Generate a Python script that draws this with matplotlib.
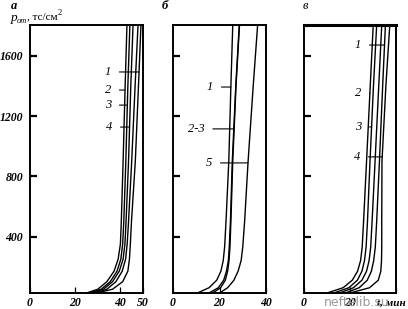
import numpy as np
import matplotlib
matplotlib.use('Agg')
import matplotlib.pyplot as plt

plt.rcParams['font.family'] = ['Liberation Serif', 'DejaVu Serif']

# давление, тс/см2 (общая сетка точек по оси y)
p_a = [25, 50, 100, 170, 250, 350, 500, 900, 1400, 1805]
p_b = [25, 60, 110, 170, 240, 330, 500, 900, 1400, 1805]
p_c = [25, 60, 110, 170, 240, 330, 500, 900, 1400, 1805]

# панель а: время, мин
a_curve1 = [29.5, 36.5, 41.0, 43.3, 44.0, 44.4, 44.9, 46.6, 48.0, 49.1]
a_curve2 = [25.0, 30.0, 34.0, 37.2, 39.0, 40.0, 40.4, 41.2, 42.1, 42.9]
a_curve3 = [26.5, 31.5, 35.5, 38.5, 40.2, 41.0, 41.5, 42.4, 43.3, 44.2]
a_curve4 = [27.5, 32.5, 36.5, 39.5, 41.2, 42.0, 42.5, 43.6, 44.6, 45.6]
a_curve5 = [28.5, 34.0, 38.0, 40.8, 42.3, 43.0, 43.6, 45.0, 46.5, 47.8]

# панель б
b_curve1 = [10.5, 15.5, 18.8, 20.6, 21.6, 22.2, 22.8, 24.0, 24.9, 25.7]
b_curve2 = [15.5, 19.5, 21.8, 23.0, 23.8, 24.2, 24.7, 25.5, 27.0, 28.5]
b_curve3 = [17.0, 20.5, 22.5, 23.5, 24.1, 24.5, 24.9, 25.7, 27.1, 28.6]
b_curve5 = [20.0, 23.5, 26.2, 28.0, 29.3, 30.0, 30.8, 32.3, 34.5, 36.4]

# панель в
c_curve1 = [18.0, 24.0, 27.5, 29.3, 30.3, 31.0, 31.6, 32.8, 34.2, 35.4]
c_curve2 = [10.0, 17.0, 21.0, 23.3, 24.6, 25.3, 25.9, 27.2, 28.8, 30.1]
c_curve3 = [13.0, 19.5, 23.2, 25.2, 26.3, 27.0, 27.6, 28.7, 30.2, 31.6]
c_curve4 = [20.0, 28.5, 32.3, 33.4, 33.7, 33.8, 33.8, 33.9, 35.6, 37.3]
c_curve_x = [15.5, 21.5, 25.2, 27.2, 28.3, 29.0, 29.6, 30.9, 32.5, 33.8]

y_ticks = [400, 800, 1200, 1600]
y_ticklabels = ['400', '800', '1200', '1600']

fig = plt.figure(figsize=(4.08, 3.09), dpi=100)
W, H = 408, 309


def box(l, r, t=25, b=293):
    return [l / W, (H - b) / H, (r - l) / W, (b - t) / H]


ax_a = fig.add_axes(box(30, 143))
ax_b = fig.add_axes(box(173, 266))
ax_c = fig.add_axes(box(304, 396))

for ax in (ax_a, ax_b, ax_c):
    ax.set_ylim(25, 1805)
    ax.set_yticks(y_ticks)
    for s in ax.spines.values():
        s.set_linewidth(1.4)
    ax.tick_params(axis='y', direction='in', length=5, width=1.6, labelsize=8.5, pad=5)
    ax.tick_params(axis='x', direction='in', length=4, width=0.9, labelsize=8.5, pad=3)

ax_a.set_xlim(0, 50)
ax_a.set_xticks([0, 20, 40, 50])
ax_a.set_xticklabels(['0', '20', '40', '50'])
ax_a.set_yticklabels(y_ticklabels)

ax_b.set_xlim(0, 40)
ax_b.set_xticks([0, 20, 40])
ax_b.set_xticklabels(['0', '20', '40'])
ax_b.set_yticklabels([])

ax_c.set_xlim(0, 40)
ax_c.set_xticks([0, 20, 40])
ax_c.set_xticklabels(['0', '20', ''])
ax_c.set_yticklabels([])
ax_c.spines['top'].set_linewidth(2.2)

for ax in (ax_a, ax_b, ax_c):
    for lbl in ax.get_xticklabels() + ax.get_yticklabels():
        lbl.set_fontstyle('italic')
        lbl.set_fontweight('bold')

curves_a = [a_curve1, a_curve2, a_curve3, a_curve4, a_curve5]
curves_b = [b_curve1, b_curve2, b_curve3, b_curve5]
curves_c = [c_curve1, c_curve2, c_curve3, c_curve4, c_curve_x]

for ax, pp, curves in ((ax_a, p_a, curves_a), (ax_b, p_b, curves_b), (ax_c, p_c, curves_c)):
    for c in curves:
        ax.plot(c, pp, color='black', lw=1.0)


def tag(ax, text, x_text, p, curve, pp):
    x_end = np.interp(p, pp, curve)
    ax.annotate(text, xy=(x_end, p), xytext=(x_text, p), ha='center', va='center',
                fontsize=9, fontstyle='italic',
                arrowprops=dict(arrowstyle='-', lw=0.8, shrinkA=4, shrinkB=0))


tag(ax_a, '1', 34.5, 1493, a_curve1, p_a)
tag(ax_a, '2', 34.5, 1373, a_curve2, p_a)
tag(ax_a, '3', 34.5, 1273, a_curve3, p_a)
tag(ax_a, '4', 35.0, 1127, a_curve4, p_a)

tag(ax_b, '1', 15.9, 1393, b_curve1, p_b)
tag(ax_b, '2-3', 10.0, 1115, b_curve2, p_b)
tag(ax_b, '5', 15.5, 889, b_curve5, p_b)

tag(ax_c, '1', 23.5, 1672, c_curve1, p_c)
tag(ax_c, '2', 23.5, 1353, c_curve2, p_c)
tag(ax_c, '3', 23.5, 1128, c_curve3, p_c)
tag(ax_c, '4', 23.0, 929, c_curve4, p_c)

# подписи панелей и оси
fig.text(14 / W, 1 - 6 / H, 'а', ha='center', va='center', fontsize=9, fontstyle='italic', fontweight='bold')
fig.text(165 / W, 1 - 6 / H, 'б', ha='center', va='center', fontsize=9, fontstyle='italic', fontweight='bold')
fig.text(305 / W, 1 - 6 / H, 'в', ha='center', va='center', fontsize=9, fontstyle='italic')
fig.text(11 / W, 1 - 18 / H, 'p', ha='left', va='center', fontsize=9.5, fontstyle='italic')
fig.text(17 / W, 1 - 21 / H, 'от', ha='left', va='center', fontsize=6, fontstyle='italic')
fig.text(27 / W, 1 - 17 / H, ', тс/см', ha='left', va='center', fontsize=8)
fig.text(58 / W, 1 - 13 / H, '2', ha='left', va='center', fontsize=6)
fig.text(406 / W, 1 - 303 / H, 't, мин', ha='right', va='center', fontsize=8,
         fontstyle='italic', fontweight='bold')

# водяной знак
fig.text(357 / W, 1 - 303 / H, 'neftelib.su', ha='center', va='center', fontsize=9,
         family='DejaVu Sans', color='#9a9a9a')

fig.savefig('out.png', dpi=100)
